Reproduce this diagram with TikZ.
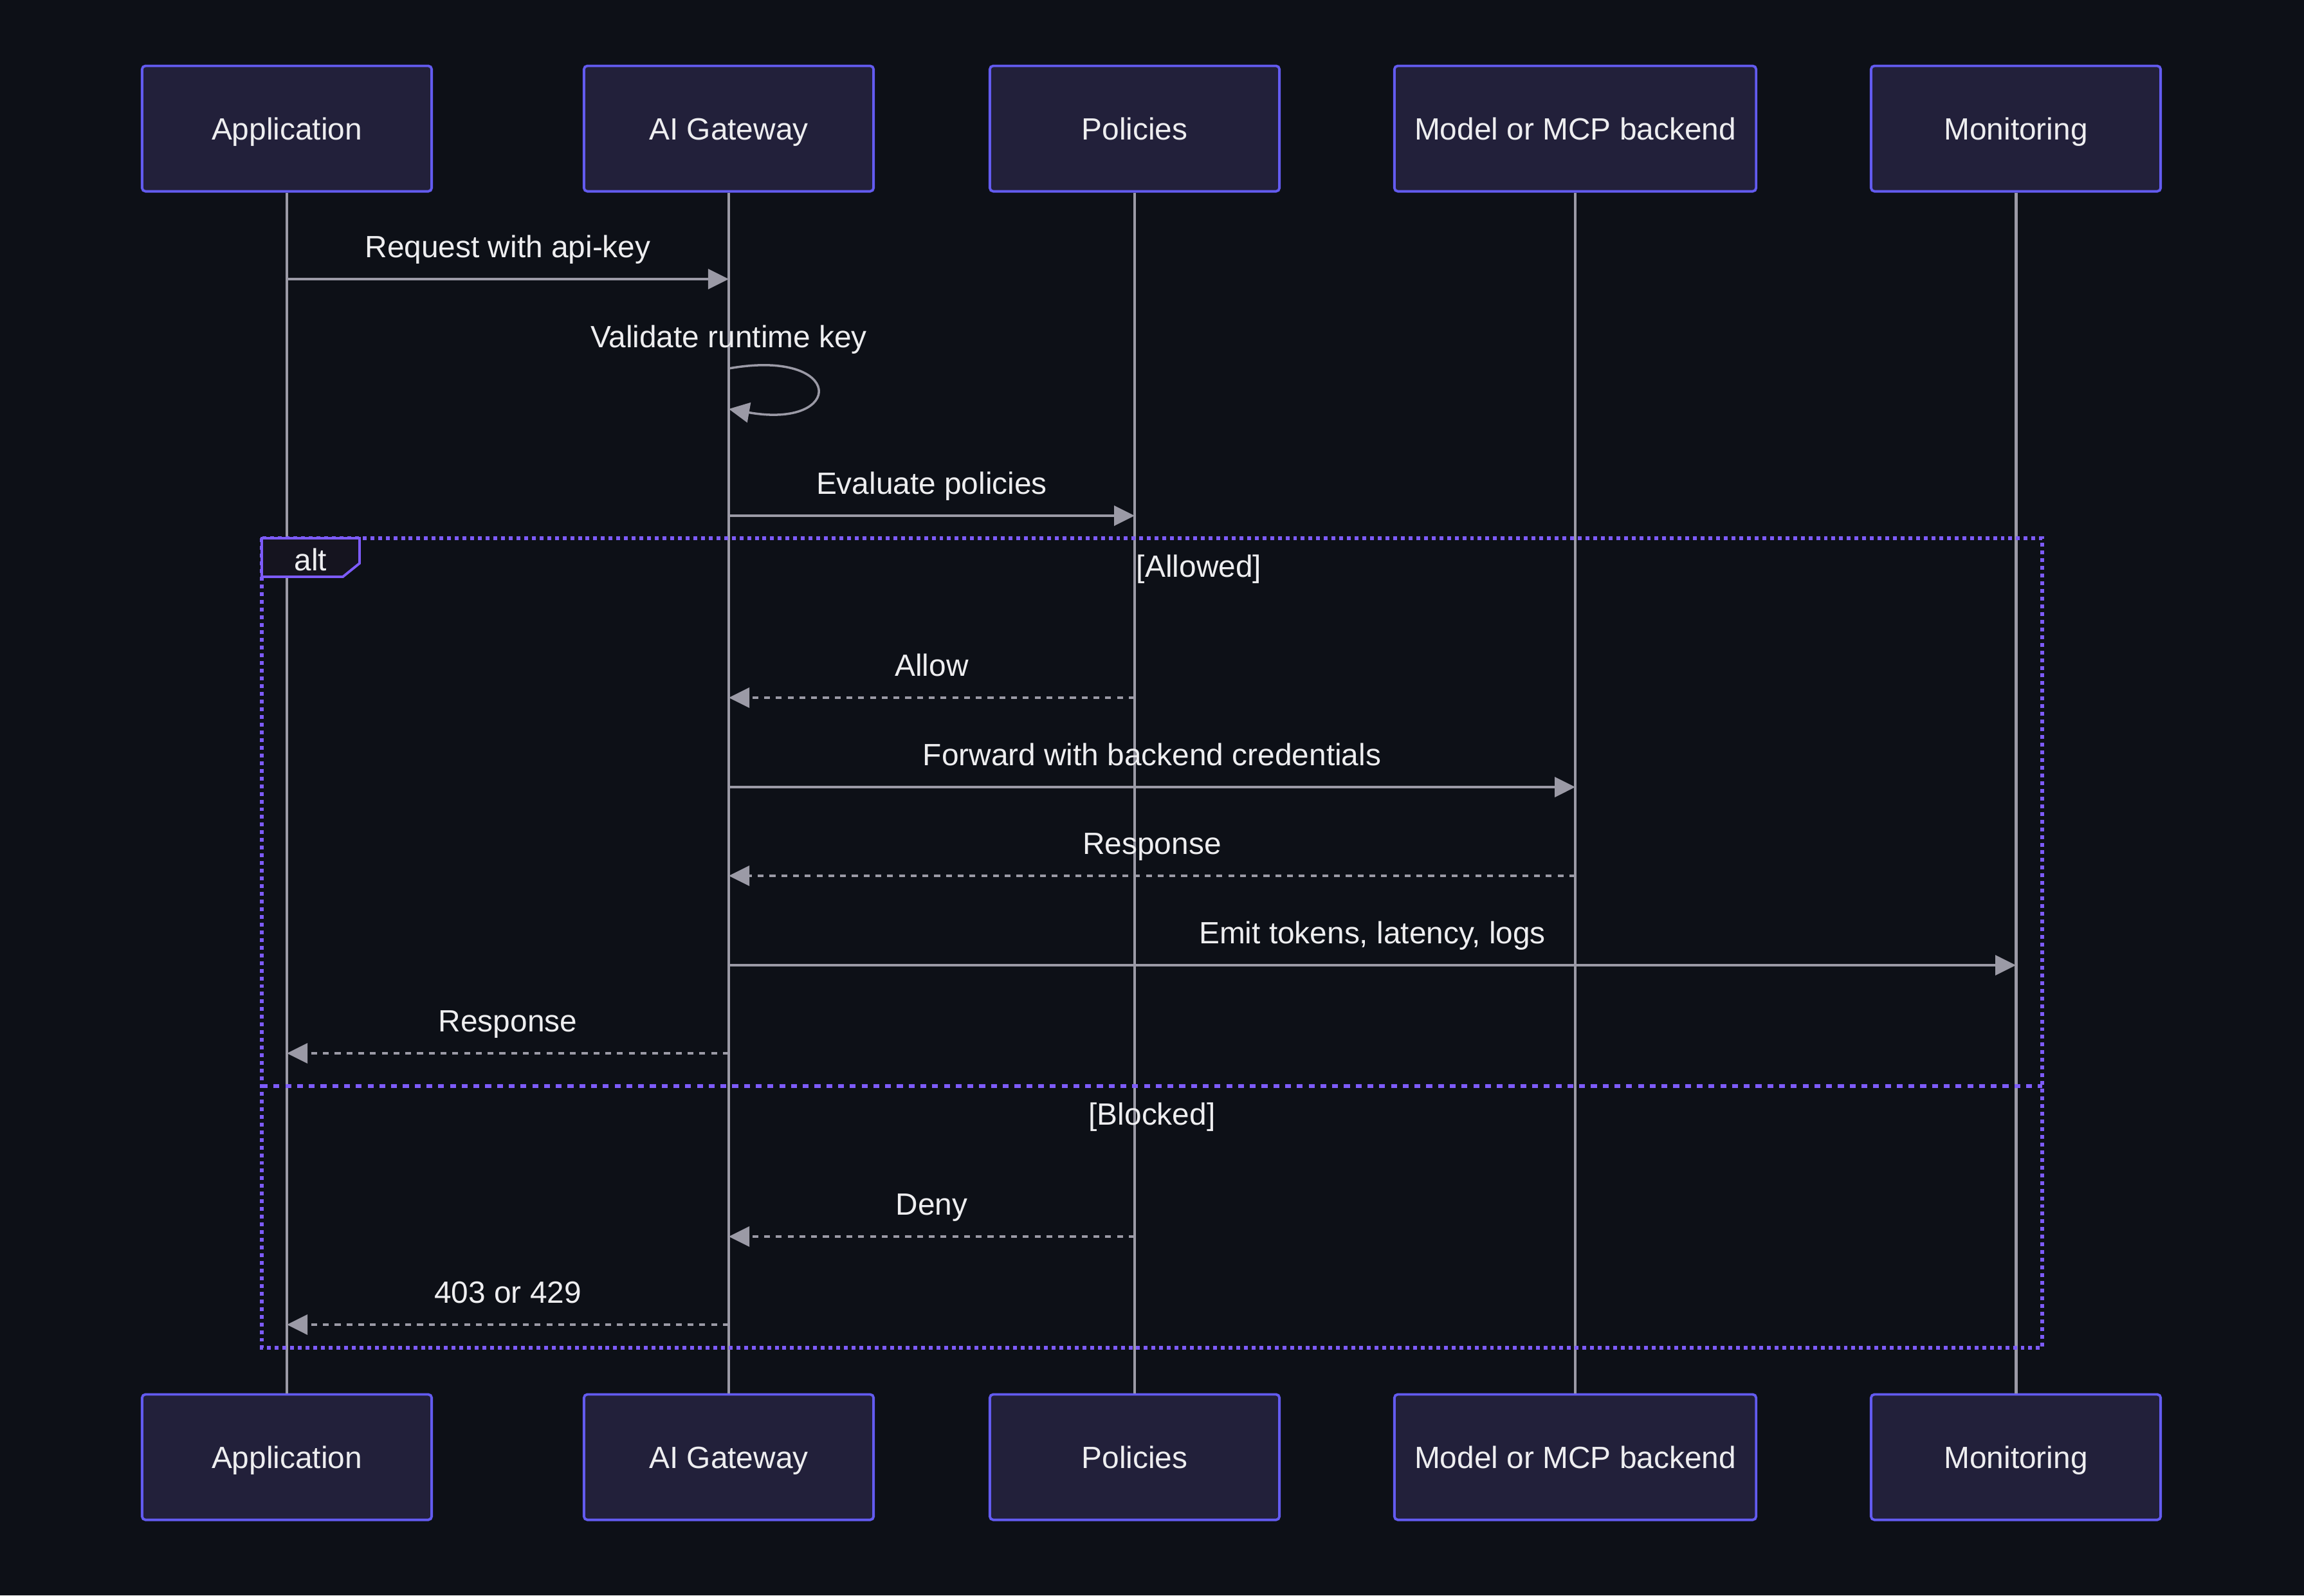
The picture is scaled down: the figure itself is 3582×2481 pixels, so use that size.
\documentclass[tikz,border=0pt]{standalone}
\usepackage{fontspec}
\setmainfont{Liberation Sans}
\usetikzlibrary{arrows.meta}
\definecolor{bgc}{HTML}{0D1017}
\definecolor{boxfill}{HTML}{22203A}
\definecolor{boxline}{HTML}{635BF0}
\definecolor{lifec}{HTML}{9B9AA6}
\definecolor{txt}{HTML}{EEEEF0}
\definecolor{framec}{HTML}{7D5BFA}
\definecolor{altfill}{HTML}{15141F}
\begin{document}
\begin{tikzpicture}[x=0.01cm, y=-0.01cm, font=\fontsize{13.6}{16}\selectfont,
   actor/.style={draw=boxline, fill=boxfill, line width=1.1pt, rounded corners=1.5pt,
      minimum height=1.95cm, text=txt, text height=9.7pt, text depth=0pt},
   life/.style={draw=lifec, line width=1.4pt},
   msg/.style={lifec, line width=1pt, -{Triangle[length=0.32cm,width=0.31cm]}},
   reply/.style={msg, dash pattern=on 2.6pt off 2.6pt},
   lbl/.style={midway, anchor=base, yshift=9.4pt, text=txt},
   frame/.style={draw=framec, line width=1.7pt, dash pattern=on 1.7pt off 1.7pt}]

   \fill[bgc] (0,0) rectangle (3582,2481);

   \foreach \n/\x/\w/\t in {app/446/4.5/Application, gw/1133/4.5/AI Gateway,
      pol/1764/4.5/Policies, mod/2449/5.62/Model or MCP backend, mon/3134/4.5/Monitoring} {
   \node[actor, minimum width=\w cm] (\n T) at (\x,200) {\t};
   \node[actor, minimum width=\w cm] (\n B) at (\x,2266) {\t};
   \draw[life] (\n T) -- (\n B);
   }

   \foreach \r/\y in {r1/434, r2/540, r3/573, r4/636, r5/802, r6/1085, r7/1224,
      r8/1362, r9/1501, r10/1638, r11/1923, r12/2060}
   \coordinate (\r) at (0,\y);

   \draw[frame] (407,837) rectangle (3175,2096);
   \draw[frame, dash pattern=on 2.6pt off 2.6pt] (407,1689) -- (3175,1689);
   \filldraw[fill=altfill, draw=framec, line width=1.1pt]
      (407,837) -- (559,837) -- (559,876) -- (533,897) -- (407,897) -- cycle;
   \node[anchor=base, text=txt] (altl) at (483,887) {alt};
   \node[anchor=base, text=txt] (okl) at (1864,897) {[Allowed]};
   \node[anchor=base, text=txt] (nol) at (1791,1749) {[Blocked]};

   \draw[msg] (appT |- r1) -- node[lbl] {Request with api-key} (gwT |- r1);
   \node[anchor=base, text=txt] (selfl) at (gwT |- r2) {Validate runtime key};
   \draw[msg] (gwT |- r3) to[out=10, in=-10, looseness=7.5] (gwT |- r4);
   \draw[msg] (gwT |- r5) -- node[lbl] {Evaluate policies} (polT |- r5);
   \draw[reply] (polT |- r6) -- node[lbl] {Allow} (gwT |- r6);
   \draw[msg] (gwT |- r7) -- node[lbl] {Forward with backend credentials} (modT |- r7);
   \draw[reply] (modT |- r8) -- node[lbl] {Response} (gwT |- r8);
   \draw[msg] (gwT |- r9) -- node[lbl] {Emit tokens, latency, logs} (monT |- r9);
   \draw[reply] (gwT |- r10) -- node[lbl] {Response} (appT |- r10);
   \draw[reply] (polT |- r11) -- node[lbl] {Deny} (gwT |- r11);
   \draw[reply] (gwT |- r12) -- node[lbl] {403 or 429} (appT |- r12);

\end{tikzpicture}
\end{document}
